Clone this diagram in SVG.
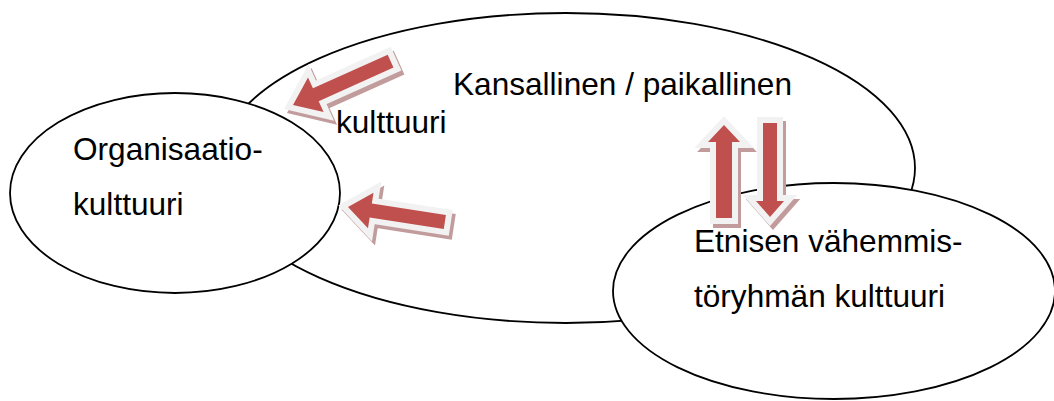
<svg xmlns="http://www.w3.org/2000/svg" xmlns:xlink="http://www.w3.org/1999/xlink" width="1054" height="401" viewBox="0 0 1054 401">
<style>
.ell{fill:#ffffff;stroke:#000000;stroke-width:1.8}
.lbl{font-family:"Liberation Sans",Arial,sans-serif;font-size:31.6px;fill:#000000}
.shadow{fill:#c29c9c;stroke:#c29c9c;stroke-width:12;stroke-linejoin:miter;stroke-miterlimit:10}
.bevel{fill:#f2f2f2;stroke:#f2f2f2;stroke-width:12;stroke-linejoin:miter;stroke-miterlimit:10}
.face{fill:#c0504d;stroke:none}
</style>
<defs>
<polygon id="a1" points="0,0 25,-19 25,-7 107,-7 107,7 25,7 25,19"/>
<polygon id="a2" points="0,0 23,-18 23,-7 98,-7 98,7 23,7 23,18"/>
<polygon id="a3" points="0,0 17,-16 17,-8 93,-8 93,8 17,8 17,16"/>
<polygon id="a4" points="0,0 16,-14 16,-7 94,-7 94,7 16,7 16,14"/>
</defs>
<g id="node-kansallinen">
<ellipse class="ell" cx="566" cy="168" rx="349" ry="155"/>
<text class="lbl" x="453" y="95">Kansallinen / paikallinen</text>
<text class="lbl" x="336" y="133">kulttuuri</text>
</g>
<g id="node-organisaatio">
<ellipse class="ell" cx="175" cy="193" rx="165" ry="100"/>
<text class="lbl" x="73" y="160">Organisaatio-</text>
<text class="lbl" x="73" y="215">kulttuuri</text>
</g>
<g id="node-etninen">
<ellipse class="ell" cx="834" cy="291" rx="221" ry="108"/>
<text class="lbl" x="694" y="252">Etnisen vähemmis-</text>
<text class="lbl" x="694" y="307">töryhmän kulttuuri</text>
</g>
<g id="connectors">
<g id="arrow-1">
<g transform="translate(3,4)"><use xlink:href="#a1" class="shadow" transform="translate(293,105) rotate(-24.2)"/></g>
<use xlink:href="#a1" class="bevel" transform="translate(293,105) rotate(-24.2)"/>
<use xlink:href="#a1" class="face" transform="translate(293,105) rotate(-24.2)"/>
</g>
<g id="arrow-2">
<g transform="translate(3,4)"><use xlink:href="#a2" class="shadow" transform="translate(348,207) rotate(8.8)"/></g>
<use xlink:href="#a2" class="bevel" transform="translate(348,207) rotate(8.8)"/>
<use xlink:href="#a2" class="face" transform="translate(348,207) rotate(8.8)"/>
</g>
<g id="arrow-3">
<g transform="translate(3,4)"><use xlink:href="#a3" class="shadow" transform="translate(724,125) rotate(90)"/></g>
<use xlink:href="#a3" class="bevel" transform="translate(724,125) rotate(90)"/>
<use xlink:href="#a3" class="face" transform="translate(724,125) rotate(90)"/>
</g>
<g id="arrow-4">
<g transform="translate(3,4)"><use xlink:href="#a4" class="shadow" transform="translate(770,217) rotate(-90)"/></g>
<use xlink:href="#a4" class="bevel" transform="translate(770,217) rotate(-90)"/>
<use xlink:href="#a4" class="face" transform="translate(770,217) rotate(-90)"/>
</g>
</g>
</svg>
